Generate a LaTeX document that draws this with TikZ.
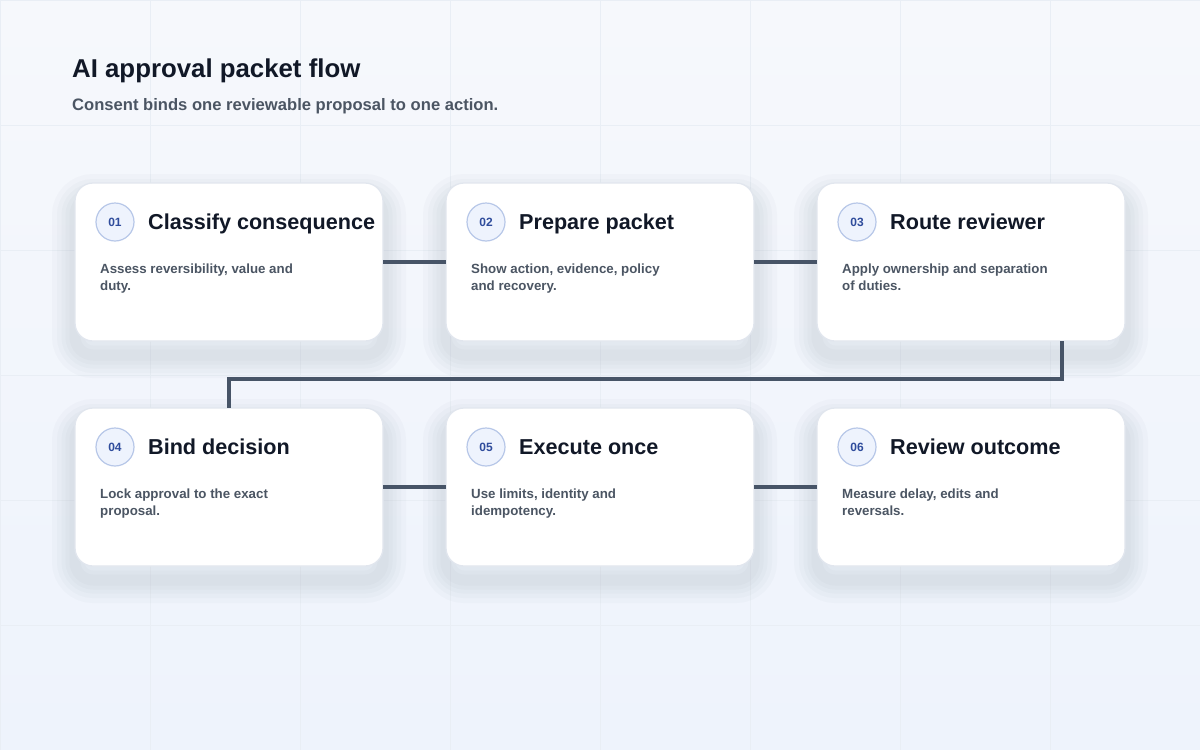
\documentclass[tikz,border=0pt]{standalone}
\usepackage{fontspec}
\setmainfont{Liberation Sans}
\usepackage{xcolor}
\usepackage{tikz}
\usetikzlibrary{positioning}

\definecolor{bg_light}{HTML}{F6F8FC}
\definecolor{bg_blue}{HTML}{EEF3FC}
\definecolor{grid_gray}{HTML}{E9EEF5}
\definecolor{card_edge}{HTML}{E1E6EE}
\definecolor{shadow_col}{HTML}{3A4A6B}
\definecolor{ink_dark}{HTML}{111827}
\definecolor{ink_gray}{HTML}{4B5563}
\definecolor{badge_fill}{HTML}{EEF3FD}
\definecolor{badge_edge}{HTML}{B7C7E8}
\definecolor{badge_ink}{HTML}{2F4C9C}
\definecolor{link_gray}{HTML}{475467}

\begin{document}
\begin{tikzpicture}[
        x=1pt, y=-1pt,
        % Define common styles for nodes
        shadow_layer/.style={preaction={draw=shadow_col, draw opacity=0.024, line width=#1, transform canvas={yshift=-14pt}}},
        card/.style={rectangle, draw=card_edge, line width=1.3pt, fill=white, rounded corners=18pt,
                     minimum width=308pt, minimum height=158pt, inner sep=0pt, outer sep=0pt,
                     shadow_layer=46pt, shadow_layer=36pt, shadow_layer=27pt, shadow_layer=19pt, shadow_layer=11pt},
        step_badge/.style={circle, draw=badge_edge, line width=1.2pt, fill=badge_fill, minimum size=38pt, inner sep=0pt,
                           text=badge_ink, font=\fontsize{12}{14}\selectfont\bfseries},
        card_title/.style={anchor=base west, inner sep=0pt, text=ink_dark, font=\fontsize{21.6}{26}\selectfont\bfseries},
        card_text/.style={anchor=north west, inner sep=0pt, align=left, text=ink_gray, font=\fontsize{13.3}{17}\selectfont\bfseries},
        link/.style={draw=link_gray, line width=3.6pt},
        grid_line/.style={draw=grid_gray, line width=0.8pt},
    ]

    % Background and faint grid
    \useasboundingbox (0,0) rectangle (1200,750);
    \shade[top color=bg_light, bottom color=bg_blue] (0,0) rectangle (1200,750);
    \draw[grid_line] (0,0) grid[xstep=150pt, ystep=125pt] (1200,750);

    % Heading
    \node (page_title) [anchor=base west, inner sep=0pt, text=ink_dark, font=\fontsize{25.8}{30}\selectfont\bfseries] at (72,77) {AI approval packet flow};
    \node (page_subtitle) [anchor=base west, inner sep=0pt, text=ink_gray, font=\fontsize{16.6}{19}\selectfont\bfseries] at (72,110) {Consent binds one reviewable proposal to one action.};

    % Top row of cards
    \node (classify_card) [card, anchor=north west] at (75,183) {};
    \node (prepare_card) [card, right=63pt of classify_card] {};
    \node (route_card) [card, right=63pt of prepare_card] {};

    % Bottom row of cards
    \node (bind_card) [card, below=67pt of classify_card] {};
    \node (execute_card) [card, right=63pt of bind_card] {};
    \node (review_card) [card, right=63pt of execute_card] {};

    % Card 01
    \node (classify_num) [step_badge] at ([xshift=40pt, yshift=-39pt]classify_card.north west) {01};
    \node (classify_title) [card_title] at ([xshift=73pt, yshift=-46.5pt]classify_card.north west) {Classify consequence};
    \node (classify_text) [card_text] at ([xshift=25pt, yshift=-80.5pt]classify_card.north west) {Assess reversibility, value and\\duty.};

    % Card 02
    \node (prepare_num) [step_badge] at ([xshift=40pt, yshift=-39pt]prepare_card.north west) {02};
    \node (prepare_title) [card_title] at ([xshift=73pt, yshift=-46.5pt]prepare_card.north west) {Prepare packet};
    \node (prepare_text) [card_text] at ([xshift=25pt, yshift=-80.5pt]prepare_card.north west) {Show action, evidence, policy\\and recovery.};

    % Card 03
    \node (route_num) [step_badge] at ([xshift=40pt, yshift=-39pt]route_card.north west) {03};
    \node (route_title) [card_title] at ([xshift=73pt, yshift=-46.5pt]route_card.north west) {Route reviewer};
    \node (route_text) [card_text] at ([xshift=25pt, yshift=-80.5pt]route_card.north west) {Apply ownership and separation\\of duties.};

    % Card 04
    \node (bind_num) [step_badge] at ([xshift=40pt, yshift=-39pt]bind_card.north west) {04};
    \node (bind_title) [card_title] at ([xshift=73pt, yshift=-46.5pt]bind_card.north west) {Bind decision};
    \node (bind_text) [card_text] at ([xshift=25pt, yshift=-80.5pt]bind_card.north west) {Lock approval to the exact\\proposal.};

    % Card 05
    \node (execute_num) [step_badge] at ([xshift=40pt, yshift=-39pt]execute_card.north west) {05};
    \node (execute_title) [card_title] at ([xshift=73pt, yshift=-46.5pt]execute_card.north west) {Execute once};
    \node (execute_text) [card_text] at ([xshift=25pt, yshift=-80.5pt]execute_card.north west) {Use limits, identity and\\idempotency.};

    % Card 06
    \node (review_num) [step_badge] at ([xshift=40pt, yshift=-39pt]review_card.north west) {06};
    \node (review_title) [card_title] at ([xshift=73pt, yshift=-46.5pt]review_card.north west) {Review outcome};
    \node (review_text) [card_text] at ([xshift=25pt, yshift=-80.5pt]review_card.north west) {Measure delay, edits and\\reversals.};

    % Draw connections
    \draw[link] (classify_card.east) -- (prepare_card.west);
    \draw[link] (prepare_card.east) -- (route_card.west);
    \draw[link] ([xshift=91pt]route_card.south) -- ++(0,38) -| (bind_card.north); % wrap to next row
    \draw[link] (bind_card.east) -- (execute_card.west);
    \draw[link] (execute_card.east) -- (review_card.west);

\end{tikzpicture}
\end{document}
